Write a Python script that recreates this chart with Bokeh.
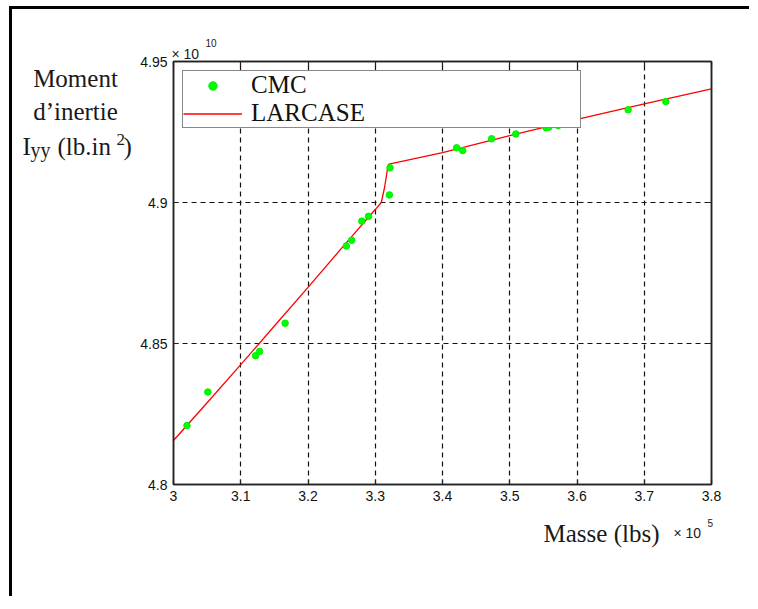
from bokeh.plotting import figure
from bokeh.models import Label, LinearAxis, FixedTicker, CustomJSTickFormatter, Legend
from bokeh.embed import file_html
from bokeh.resources import INLINE

# ---- data (mass in 1e5 lbs, Iyy in 1e10 lb.in^2) ----
cmc_mass = [3.020, 3.051, 3.122, 3.128, 3.166, 3.257, 3.265, 3.280, 3.290,
            3.321, 3.322, 3.421, 3.430, 3.473, 3.509, 3.554, 3.558, 3.572,
            3.582, 3.676, 3.732]
cmc_iyy = [4.8209, 4.8328, 4.8457, 4.8472, 4.8572, 4.8846, 4.8866, 4.8934,
           4.8951, 4.9027, 4.9123, 4.9194, 4.9184, 4.9226, 4.9243, 4.9265,
           4.9267, 4.9273, 4.9279, 4.9329, 4.9358]

larcase_mass = [3.00, 3.05, 3.10, 3.15, 3.20, 3.25, 3.30, 3.309, 3.314,
                3.319, 3.3205, 3.40, 3.50, 3.60, 3.70, 3.80]
larcase_iyy = [4.8156, 4.8290, 4.8425, 4.8562, 4.8699, 4.8838, 4.8975,
               4.9000, 4.9055, 4.9131, 4.9136, 4.9177, 4.9237, 4.9295,
               4.9350, 4.9403]

x_ticks = [3.0, 3.1, 3.2, 3.3, 3.4, 3.5, 3.6, 3.7, 3.8]
y_ticks = [4.8, 4.85, 4.9, 4.95]

X0, X1, Y0, Y1 = 3.0, 3.8, 4.8, 4.95
FL, FR, FT, FB = 173, 711, 61, 484  # plot frame in page px

OX, OY = 12, 9  # content origin on the page (margin + 3px border)
W = 740
H = 590

p = figure(width=W, height=H, x_range=(X0, X1), y_range=(Y0, Y1),
           output_backend="svg", toolbar_location=None,
           min_border_left=FL - OX, min_border_right=W - (FR - OX),
           min_border_top=FT - OY, min_border_bottom=H - (FB - OY),
           background_fill_color="white", border_fill_color="white",
           margin=(6, 0, 0, 9))
p.styles = {"border-left": "3px solid black", "border-top": "3px solid black"}

fmt = CustomJSTickFormatter(code="return String(Math.round(tick*100)/100);")

for ax in (p.xaxis[0], p.yaxis[0]):
    ax.formatter = fmt
    ax.major_tick_in = 5
    ax.major_tick_out = 0
    ax.minor_tick_line_color = None
    ax.axis_line_color = "#222222"
    ax.axis_line_width = 1.5
    ax.major_tick_line_color = "#222222"
    ax.major_tick_line_width = 1.2
    ax.major_label_text_font = "Liberation Sans"
    ax.major_label_text_font_size = "14px"
    ax.major_label_text_color = "#111111"
p.xaxis[0].ticker = FixedTicker(ticks=x_ticks)
p.yaxis[0].ticker = FixedTicker(ticks=y_ticks)
p.xaxis[0].major_label_standoff = 6
p.yaxis[0].major_label_standoff = 6

for loc, ticks in (("above", x_ticks), ("right", y_ticks)):
    ax = LinearAxis(ticker=FixedTicker(ticks=ticks), major_tick_in=5,
                    major_tick_out=0, minor_tick_line_color=None,
                    axis_line_color="#222222", axis_line_width=1.5,
                    major_tick_line_color="#222222", major_tick_line_width=1.2,
                    major_label_text_color=None, major_label_text_font_size="1px",
                    major_label_standoff=0)
    p.add_layout(ax, loc)

p.xgrid.ticker = FixedTicker(ticks=x_ticks)
p.ygrid.ticker = FixedTicker(ticks=y_ticks)
for g in (p.xgrid[0], p.ygrid[0]):
    g.grid_line_color = "#111111"
    g.grid_line_dash = "5 4"
    g.grid_line_width = 1.2
    g.grid_line_alpha = 1.0

p.outline_line_color = "#222222"
p.outline_line_width = 1.5

r_line = p.line(larcase_mass, larcase_iyy, line_color="#ff0000", line_width=1.3)
r_pts = p.scatter(cmc_mass, cmc_iyy, size=6.5, fill_color="#00ff00",
                  line_color="#00ee00", marker="circle")

legend = Legend(items=[("CMC", [r_pts]), ("LARCASE", [r_line])],
                location="top_left", margin=9, padding=0, spacing=-10,
                label_text_font="Liberation Serif", label_text_font_size="25px",
                label_text_color="#111111",
                label_height=21, glyph_height=21, glyph_width=59,
                label_standoff=9, label_width=329,
                border_line_color="#111111", border_line_width=1.5,
                background_fill_color="white", background_fill_alpha=1.0)
p.add_layout(legend, "center")

# ---- transparent overlay figure in page-pixel coordinates for free text ----
t = figure(width=W, height=H, x_range=(OX, OX + W), y_range=(OY + H, OY),
           output_backend="svg", toolbar_location=None,
           x_axis_type=None, y_axis_type=None,
           min_border=0, min_border_left=0, min_border_right=0,
           min_border_top=0, min_border_bottom=0,
           background_fill_alpha=0, border_fill_alpha=0,
           outline_line_color=None, margin=0)
t.styles = {"position": "absolute", "left": "%dpx" % OX, "top": "%dpx" % OY,
            "pointer-events": "none"}
t.xgrid.visible = False
t.ygrid.visible = False


def lab(text, px, py, size, font="Liberation Serif", align="left",
        color="#1a1a1a"):
    t.add_layout(Label(x=px, y=py, text=text, text_font=font,
                       text_font_size=size, text_align=align,
                       text_baseline="alphabetic", text_color=color))


# y axis label (three lines)
lab("Moment", 75, 78, "25px", align="center")
lab("d\u2019inertie", 75, 111, "25px", align="center")
lab("I", 22, 146, "25px")
lab("yy", 30, 149, "20px")
lab("(lb.in", 57, 146, "25px")
lab("2", 116, 139, "17px")
lab(")", 123, 146, "25px")

# x axis label
lab("Masse (lbs)", 543, 533, "25px")

# exponent markers
lab("\u00d7 10", 171, 53, "14px", font="Liberation Sans")
lab("10", 205, 42, "10px", font="Liberation Sans")
lab("\u00d7 10", 673, 532, "14px", font="Liberation Sans")
lab("5", 707, 522, "10px", font="Liberation Sans")

open("out.html", "w").write(file_html([p, t], INLINE))
